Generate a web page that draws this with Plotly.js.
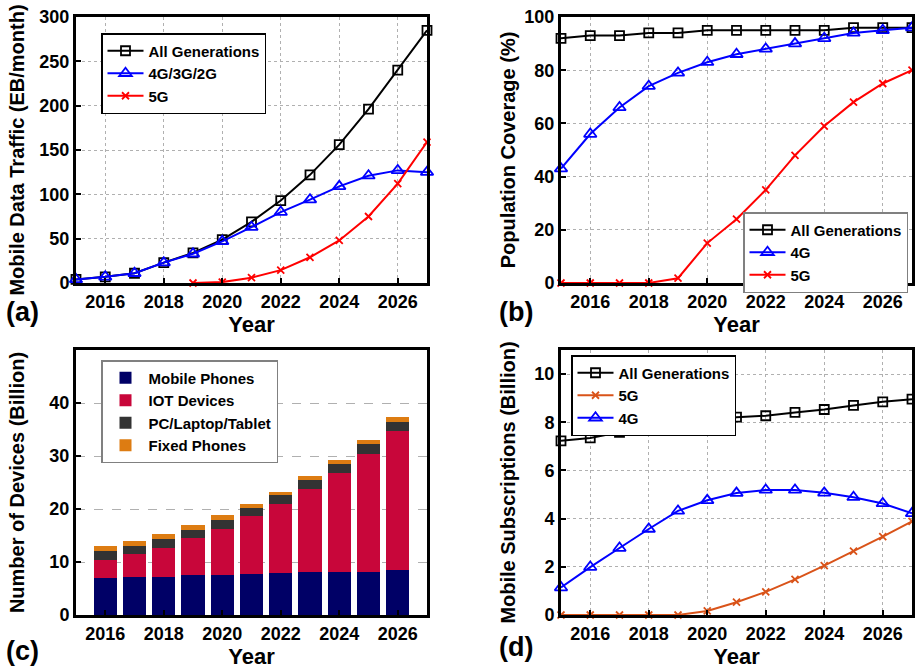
<!DOCTYPE html>
<html>
<head>
<meta charset="utf-8">
<script src="https://cdn.plot.ly/plotly-3.0.1.min.js"></script>
<style>html,body{margin:0;padding:0;background:#fff}#chart{width:915px;height:670px}</style>
</head>
<body>
<div id="chart"></div>
<script>
// ---------- data ----------
var yearsLine = [2015,2016,2017,2018,2019,2020,2021,2022,2023,2024,2025,2026,2027];
var yearsBar  = [2016,2017,2018,2019,2020,2021,2022,2023,2024,2025,2026];

// (a) Mobile data traffic (EB/month)
var trafficAll = [4,7,11,23,34,49,69,93,122,156,196,240,285];
var trafficLegacy = [4,7,11,23,33,47,63,80,94,109,121,127,125];
var yearsTraffic5G = [2019,2020,2021,2022,2023,2024,2025,2026,2027];
var traffic5G = [0,1,6,14.5,29,48,75,112,159];

// (b) Population coverage (%)
var coverageAll = [92,93,93,94,94,95,95,95,95,95,96,96,96];
var coverage4G  = [43,56,66,74,79,83,86,88,90,92,94,95,96];
var coverage5G  = [0,0,0,0,1.8,15,24,35,48,59,68,75,80];

// (c) Number of devices (Billion)
var devMobile = [7.0,7.2,7.25,7.55,7.6,7.8,7.9,8.1,8.2,8.2,8.4];
var devIOT    = [3.4,4.4,5.45,7.05,8.7,10.9,13.0,15.6,18.5,22.2,26.3];
var devPC     = [1.6,1.5,1.6,1.4,1.6,1.4,1.7,1.7,1.8,1.8,1.8];
var devFixed  = [1.0,0.8,0.9,1.0,1.0,0.8,0.7,0.8,0.8,0.9,0.8];

// (d) Mobile subscriptions (Billion)
var subsAll = [7.23,7.35,7.58,7.66,7.91,7.96,8.21,8.27,8.41,8.53,8.70,8.85,8.96];
var subs5G  = [0,0,0,0,0,0.17,0.53,0.96,1.48,2.05,2.65,3.25,3.89];
var subs4G  = [1.14,1.99,2.78,3.57,4.32,4.76,5.06,5.19,5.19,5.07,4.89,4.63,4.22];

var xTickVals = [2016,2018,2020,2022,2024,2026];

// ---------- styling ----------
var FONT = 'Liberation Sans, Arial, sans-serif';
var tickFont = {family: FONT, size: 18, color: '#000', weight: 'bold'};
var yTitleFont = {family: FONT, size: 20, color: '#000', weight: 'bold'};
var xTitleFont = {family: FONT, size: 22, color: '#000', weight: 'bold'};
var legFont = {family: FONT, size: 15, color: '#000', weight: 'bold'};

function xAxis(domain, anchor, grid) {
  return {
    domain: domain, anchor: anchor, range: [2015, 2027],
    tickmode: 'array', tickvals: xTickVals,
    ticks: 'inside', ticklen: 5, tickwidth: 2, tickcolor: '#000',
    showline: true, linewidth: 3, linecolor: '#000', mirror: true,
    showgrid: grid, gridcolor: '#b0b0b0', griddash: 'dot', gridwidth: 1,
    zeroline: false, tickfont: tickFont,
    title: {text: 'Year', font: xTitleFont, standoff: 1}
  };
}
function yAxis(domain, anchor, range, tickvals, title, griddash, standoff) {
  return {
    domain: domain, anchor: anchor, range: range,
    tickmode: 'array', tickvals: tickvals,
    ticks: 'inside', ticklen: 5, tickwidth: 2, tickcolor: '#000',
    showline: true, linewidth: 3, linecolor: '#000', mirror: true,
    showgrid: true, gridcolor: '#b0b0b0', griddash: griddash, gridwidth: 1,
    zeroline: false, tickfont: tickFont,
    title: {text: title, font: yTitleFont, standoff: standoff}
  };
}

var BLACK = '#000000', BLUE = '#0000ff', RED = '#ff0000', ORANGE = '#d95319';

function line(x, y, name, color, symbol, size, xa, ya, leg) {
  return {
    type: 'scatter', mode: 'lines+markers', x: x, y: y, name: name,
    xaxis: xa, yaxis: ya, legend: leg, cliponaxis: false,
    line: {color: color, width: 2},
    marker: {symbol: symbol, size: size, color: color, line: {color: color, width: 1.8}}
  };
}

var traces = [
  // (a)
  line(yearsLine, trafficAll, 'All Generations', BLACK, 'square-open', 9, 'x', 'y', 'legend'),
  line(yearsLine, trafficLegacy, '4G/3G/2G', BLUE, 'triangle-up-open', 11, 'x', 'y', 'legend'),
  line(yearsTraffic5G, traffic5G, '5G', RED, 'x-thin-open', 7, 'x', 'y', 'legend'),
  // (b)
  line(yearsLine, coverageAll, 'All Generations', BLACK, 'square-open', 9, 'x2', 'y2', 'legend2'),
  line(yearsLine, coverage4G, '4G', BLUE, 'triangle-up-open', 11, 'x2', 'y2', 'legend2'),
  line(yearsLine, coverage5G, '5G', RED, 'x-thin-open', 7, 'x2', 'y2', 'legend2'),
  // (c)
  {type: 'bar', x: yearsBar, y: devMobile, name: 'Mobile Phones', xaxis: 'x3', yaxis: 'y3', legend: 'legend3', width: 0.8, marker: {color: '#000066'}},
  {type: 'bar', x: yearsBar, y: devIOT, name: 'IOT Devices', xaxis: 'x3', yaxis: 'y3', legend: 'legend3', width: 0.8, marker: {color: '#c8063a'}},
  {type: 'bar', x: yearsBar, y: devPC, name: 'PC/Laptop/Tablet', xaxis: 'x3', yaxis: 'y3', legend: 'legend3', width: 0.8, marker: {color: '#333333'}},
  {type: 'bar', x: yearsBar, y: devFixed, name: 'Fixed Phones', xaxis: 'x3', yaxis: 'y3', legend: 'legend3', width: 0.8, marker: {color: '#dd7c12'}},
  // (d)
  line(yearsLine, subsAll, 'All Generations', BLACK, 'square-open', 9, 'x4', 'y4', 'legend4'),
  line(yearsLine, subs5G, '5G', ORANGE, 'x-thin-open', 7, 'x4', 'y4', 'legend4'),
  line(yearsLine, subs4G, '4G', BLUE, 'triangle-up-open', 11, 'x4', 'y4', 'legend4')
];

var dxL = [76/915, 427/915], dxR = [561/915, 912/915];
var dyT = [1 - 283/670, 1 - 17/670], dyB = [1 - 615/670, 1 - 350/670];

function legendAt(x, y, border, xanchor) {
  return {x: x, y: y, xanchor: xanchor || 'left', yanchor: 'top', xref: 'paper', yref: 'paper',
    bgcolor: '#ffffff', bordercolor: border, borderwidth: 1.5, font: legFont,
    itemwidth: 36, tracegroupgap: 0, traceorder: 'normal'};
}

var layout = {
  width: 915, height: 670,
  margin: {l: 0, r: 0, t: 0, b: 0},
  paper_bgcolor: '#ffffff', plot_bgcolor: '#ffffff',
  font: {family: FONT, color: '#000'},
  barmode: 'stack', bargap: 0.2,
  xaxis: xAxis(dxL, 'y', true),
  yaxis: yAxis(dyT, 'x', [0, 300], [0,50,100,150,200,250,300], 'Mobile Data Traffic (EB/month)', 'dot', 10),
  xaxis2: xAxis(dxR, 'y2', true),
  yaxis2: yAxis(dyT, 'x2', [0, 100], [0,20,40,60,80,100], 'Population Coverage (%)', 'dot', 4),
  xaxis3: xAxis(dxL, 'y3', false),
  yaxis3: yAxis(dyB, 'x3', [0, 50], [0,10,20,30,40], 'Number of Devices (Billion)', 'dash', 20),
  xaxis4: xAxis(dxR, 'y4', true),
  yaxis4: yAxis(dyB, 'x4', [0, 11], [0,2,4,6,8,10], 'Mobile Subscriptions (Billion)', 'dot', 14),
  legend: legendAt(101/915, 1 - 33/670, '#000000'),
  legend2: legendAt(908/915, 1 - 212/670, '#808080', 'right'),
  legend3: legendAt(101/915, 1 - 360/670, '#808080'),
  legend4: legendAt(571/915, 1 - 355/670, '#000000'),
  annotations: [
    {text: '(a)', x: 4/915, y: 1 - 312/670},
    {text: '(b)', x: 497/915, y: 1 - 312/670},
    {text: '(c)', x: 4/915, y: 1 - 651/670},
    {text: '(d)', x: 497/915, y: 1 - 647/670}
  ].map(function (a) {
    return Object.assign({xref: 'paper', yref: 'paper', xanchor: 'left', yanchor: 'middle',
      showarrow: false, font: {family: FONT, size: 27, color: '#000', weight: 'bold'}}, a);
  })
};

Plotly.newPlot('chart', traces, layout, {displayModeBar: false, staticPlot: true});
</script>
</body>
</html>
